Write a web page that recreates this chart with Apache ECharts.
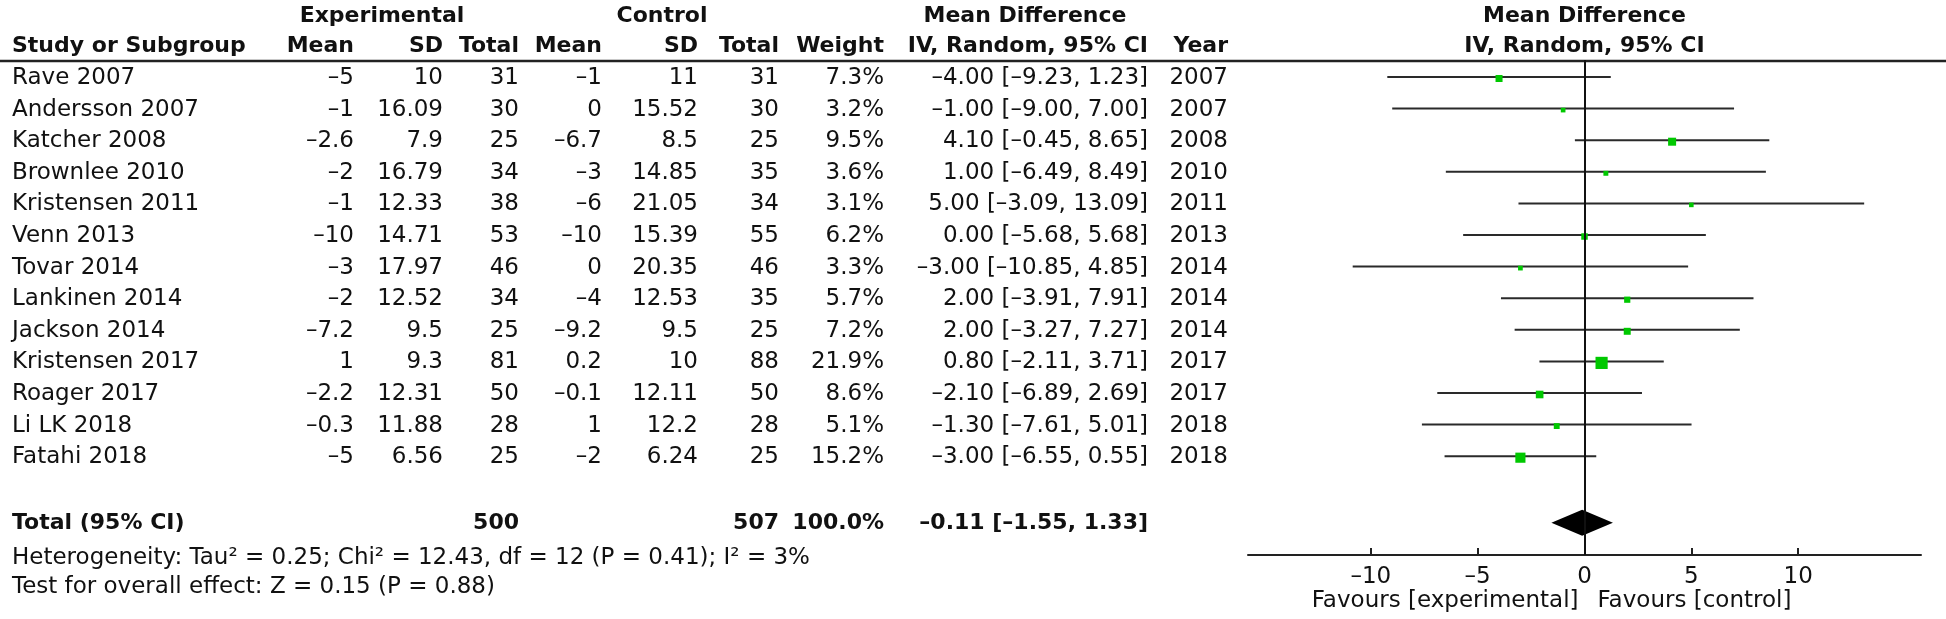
<!DOCTYPE html>
<html>
<head>
<meta charset="utf-8">
<script src="https://cdn.jsdelivr.net/npm/echarts@6/dist/echarts.min.js"></script>
<style>
html,body{margin:0;padding:0;background:#fff;}
#c{width:1946px;height:619px;}
</style>
</head>
<body>
<div id="c"></div>
<script>
// ---------------- data ----------------
const studies = ['Rave 2007','Andersson 2007','Katcher 2008','Brownlee 2010','Kristensen 2011','Venn 2013','Tovar 2014','Lankinen 2014','Jackson 2014','Kristensen 2017','Roager 2017','Li LK 2018','Fatahi 2018'];
const expMean = [-5,-1,-2.6,-2,-1,-10,-3,-2,-7.2,1,-2.2,-0.3,-5];
const expSD   = ['10','16.09','7.9','16.79','12.33','14.71','17.97','12.52','9.5','9.3','12.31','11.88','6.56'];
const expN    = [31,30,25,34,38,53,46,34,25,81,50,28,25];
const ctlMean = [-1,0,-6.7,-3,-6,-10,0,-4,-9.2,0.2,-0.1,1,-2];
const ctlSD   = ['11','15.52','8.5','14.85','21.05','15.39','20.35','12.53','9.5','10','12.11','12.2','6.24'];
const ctlN    = [31,30,25,35,34,55,46,35,25,88,50,28,25];
const weights = [7.3,3.2,9.5,3.6,3.1,6.2,3.3,5.7,7.2,21.9,8.6,5.1,15.2];
const md      = [-4,-1,4.1,1,5,0,-3,2,2,0.8,-2.1,-1.3,-3];
const ciLow   = [-9.23,-9,-0.45,-6.49,-3.09,-5.68,-10.85,-3.91,-3.27,-2.11,-6.89,-7.61,-6.55];
const ciHigh  = [1.23,7,8.65,8.49,13.09,5.68,4.85,7.91,7.27,3.71,2.69,5.01,0.55];
const years   = [2007,2007,2008,2010,2011,2013,2014,2014,2014,2017,2017,2018,2018];

const totalExpN = 500;
const totalCtlN = 507;
const totalWeight = 100.0;
const totalMD = -0.11;
const totalLow = -1.55;
const totalHigh = 1.33;
const heterogeneityText = 'Heterogeneity: Tau\u00b2 = 0.25; Chi\u00b2 = 12.43, df = 12 (P = 0.41); I\u00b2 = 3%';
const overallText = 'Test for overall effect: Z = 0.15 (P = 0.88)';
const xTicks = [-10,-5,0,5,10];

// ---------------- layout helpers ----------------
const FONT = 'DejaVu Sans';
const FS = 23;
const FSB = 22;
const dash = s => String(s).replace(/-/g, '\u2013');
const f2 = v => dash(v.toFixed(2));
const ciText = (m, l, h) => f2(m) + ' [' + f2(l) + ', ' + f2(h) + ']';

const TOTAL_ROW = 14.11;   // row slot of the pooled estimate
const HET_ROW = 15.22;
const TEST_ROW = 16.14;
// column right edges (px)
const COL = {study:12, expMean:354, expSD:443, expN:519, ctlMean:602, ctlSD:698, ctlN:779, weight:884, ci:1148, year:1228};

function txt(text, x, y, align, bold){
  return {type:'text', style:{text:text, x:x, y:y, align:align, verticalAlign:'middle',
    fontFamily:FONT, fontSize: bold ? FSB : FS, fontWeight: bold ? 'bold' : 'normal', fill:'#111'}};
}

const rows = studies.map((s,i)=>[0,i]);
const forestData = md.map((m,i)=>[m, ciLow[i], ciHigh[i], weights[i], i]);

const chart = echarts.init(document.getElementById('c'), null, {renderer:'canvas'});

const option = {
  animation:false,
  backgroundColor:'#fff',
  grid:{left:1248, right:25, top:60, bottom:64},
  xAxis:{
    type:'value', min:-15.75, max:15.75,
    axisLine:{show:true, onZero:false, lineStyle:{color:'#222', width:2}},
    axisTick:{show:true, inside:true, length:7, customValues:xTicks, lineStyle:{color:'#222', width:2}},
    axisLabel:{show:true, customValues:xTicks, margin:11, formatter:v=>dash(v), fontFamily:FONT, fontSize:FS, color:'#111'},
    splitLine:{show:false}
  },
  yAxis:{type:'value', inverse:true, min:-0.538, max:15.127, show:false, splitLine:{show:false}},
  series:[
    {
      type:'custom', name:'table', clip:false, silent:true,
      data: rows,
      renderItem:function(params, api){
        const i = params.dataIndex;
        const y = api.coord([0, i])[1] + 1;
        return {type:'group', children:[
          txt(studies[i], COL.study, y, 'left'),
          txt(dash(expMean[i]), COL.expMean, y, 'right'),
          txt(expSD[i], COL.expSD, y, 'right'),
          txt(String(expN[i]), COL.expN, y, 'right'),
          txt(dash(ctlMean[i]), COL.ctlMean, y, 'right'),
          txt(ctlSD[i], COL.ctlSD, y, 'right'),
          txt(String(ctlN[i]), COL.ctlN, y, 'right'),
          txt(weights[i].toFixed(1)+'%', COL.weight, y, 'right'),
          txt(ciText(md[i], ciLow[i], ciHigh[i]), COL.ci, y, 'right'),
          txt(String(years[i]), COL.year, y, 'right')
        ]};
      }
    },
    {
      type:'custom', name:'totalRow', clip:false, silent:true,
      data:[[0, TOTAL_ROW]],
      renderItem:function(params, api){
        const y = api.coord([0, TOTAL_ROW])[1];
        const y2 = api.coord([0, HET_ROW])[1];
        const y3 = api.coord([0, TEST_ROW])[1];
        return {type:'group', children:[
          txt('Total (95% CI)', COL.study, y, 'left', true),
          txt(String(totalExpN), COL.expN, y, 'right', true),
          txt(String(totalCtlN), COL.ctlN, y, 'right', true),
          txt(totalWeight.toFixed(1)+'%', COL.weight, y, 'right', true),
          txt(ciText(totalMD, totalLow, totalHigh), COL.ci, y, 'right', true),
          txt(heterogeneityText, COL.study, y2, 'left'),
          txt(overallText, COL.study, y3, 'left')
        ]};
      }
    },
    {
      type:'custom', name:'forest', silent:true, clip:false,
      data: forestData,
      renderItem:function(params, api){
        const m = api.value(0), lo = api.value(1), hi = api.value(2), w = api.value(3), r = api.value(4);
        const p1 = api.coord([lo, r]), p2 = api.coord([hi, r]), pm = api.coord([m, r]);
        const s = 2.6*Math.sqrt(w);
        return {type:'group', children:[
          {type:'line', shape:{x1:p1[0], y1:p1[1], x2:p2[0], y2:p2[1]}, style:{stroke:'#2a2a2a', lineWidth:2}},
          {type:'rect', shape:{x:pm[0]-s/2, y:pm[1]-s/2+1.5, width:s, height:s}, style:{fill:'#00c800'}}
        ]};
      },
      markLine:{
        silent:true, symbol:['none','none'], animation:false,
        label:{show:false},
        lineStyle:{color:'#111', width:2, type:'solid'},
        data:[{xAxis:0}]
      }
    },
    {
      type:'custom', name:'diamond', silent:true, clip:false,
      data:[[totalMD, totalLow, totalHigh, TOTAL_ROW]],
      renderItem:function(params, api){
        const m = api.value(0), lo = api.value(1), hi = api.value(2), r = api.value(3);
        const pl = api.coord([lo, r]), ph = api.coord([hi, r]), pm = api.coord([m, r]);
        const h = 13;
        return {type:'polygon', shape:{points:[[pl[0], pl[1]],[pm[0], pm[1]-h],[ph[0], ph[1]],[pm[0], pm[1]+h]]}, style:{fill:'#000'}};
      }
    }
  ]
};
chart.setOption(option);

const zeroX = chart.convertToPixel({gridIndex:0}, [0, 0])[0];
const hdr = (text, x, y, align) => ({type:'text', silent:true, style:{text:text, x:x, y:y, align:align, verticalAlign:'middle', fontFamily:FONT, fontSize:FSB, fontWeight:'bold', fill:'#111'}});
chart.setOption({
  graphic:[
    hdr('Experimental', 382, 16, 'center'),
    hdr('Control', 662, 16, 'center'),
    hdr('Mean Difference', 1025, 16, 'center'),
    hdr('Mean Difference', zeroX, 16, 'center'),
    hdr('Study or Subgroup', COL.study, 46, 'left'),
    hdr('Mean', COL.expMean, 46, 'right'),
    hdr('SD', COL.expSD, 46, 'right'),
    hdr('Total', COL.expN, 46, 'right'),
    hdr('Mean', COL.ctlMean, 46, 'right'),
    hdr('SD', COL.ctlSD, 46, 'right'),
    hdr('Total', COL.ctlN, 46, 'right'),
    hdr('Weight', COL.weight, 46, 'right'),
    hdr('IV, Random, 95% CI', COL.ci, 46, 'right'),
    hdr('Year', COL.year, 46, 'right'),
    hdr('IV, Random, 95% CI', zeroX, 46, 'center'),
    {type:'line', silent:true, shape:{x1:0, y1:61, x2:1946, y2:61}, style:{stroke:'#222', lineWidth:2.5}},
    {type:'text', silent:true, style:{text:'Favours [experimental]', x:zeroX-6, y:601, align:'right', verticalAlign:'middle', fontFamily:FONT, fontSize:FS, fill:'#111'}},
    {type:'text', silent:true, style:{text:'Favours [control]', x:zeroX+13, y:601, align:'left', verticalAlign:'middle', fontFamily:FONT, fontSize:FS, fill:'#111'}}
  ]
});
</script>
</body>
</html>
